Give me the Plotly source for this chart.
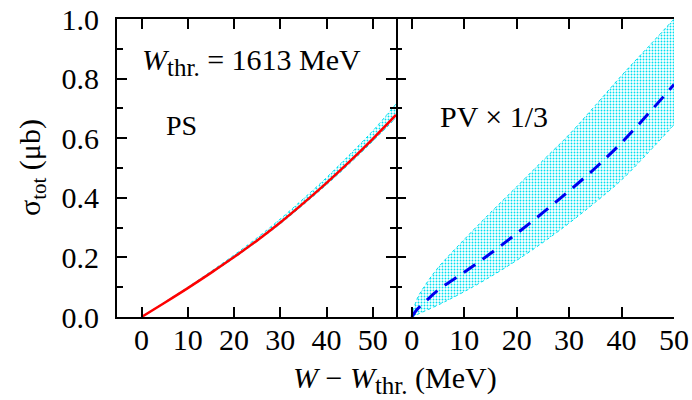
import plotly.graph_objects as go

# ---- data ----
ps_x = [0, 5, 10, 15, 20, 25, 30, 35, 40, 45, 50, 55]
ps_y = [0.0, 0.048, 0.097, 0.148, 0.201, 0.257, 0.317, 0.382, 0.450, 0.522, 0.598, 0.678]
ps_hi = [0.0, 0.050, 0.100, 0.153, 0.208, 0.266, 0.329, 0.397, 0.468, 0.545, 0.625, 0.715]
ps_lo = [0.0, 0.047, 0.095, 0.146, 0.198, 0.254, 0.313, 0.377, 0.444, 0.515, 0.590, 0.668]

pv_x = [0, 1, 2.5, 5, 10, 15, 20, 25, 30, 35, 40, 45, 50]
pv_y = [0.0, 0.025, 0.05, 0.09, 0.15, 0.213, 0.28, 0.35, 0.423, 0.50, 0.585, 0.68, 0.78]
pv_hi = [0.0, 0.06, 0.105, 0.165, 0.26, 0.35, 0.437, 0.525, 0.612, 0.71, 0.81, 0.905, 1.0]
pv_lo = [0.0, 0.008, 0.02, 0.04, 0.085, 0.135, 0.19, 0.25, 0.315, 0.385, 0.46, 0.55, 0.645]

x_ticks = [0, 10, 20, 30, 40, 50]
y_ticks = [0.0, 0.2, 0.4, 0.6, 0.8, 1.0]
y_ticklabels = ["0.0", "0.2", "0.4", "0.6", "0.8", "1.0"]

FONT = "Liberation Serif"
CYAN = "#00e0f0"

fig = go.Figure()

def band(x, lo, hi, xa, ya):
    fig.add_trace(go.Scatter(x=x, y=lo, mode="lines", xaxis=xa, yaxis=ya,
                             line=dict(color=CYAN, width=1, dash="dot", shape="spline"),
                             showlegend=False, hoverinfo="skip"))
    fig.add_trace(go.Scatter(x=x, y=hi, mode="lines", xaxis=xa, yaxis=ya,
                             line=dict(color=CYAN, width=1, dash="dot", shape="spline"),
                             fill="tonexty", fillcolor="rgba(0,224,240,0.06)",
                             fillpattern=dict(shape=".", fgcolor=CYAN, bgcolor="rgba(0,0,0,0)",
                                              size=3, solidity=0.3),
                             showlegend=False, hoverinfo="skip"))

band(ps_x, ps_lo, ps_hi, "x", "y")
fig.add_trace(go.Scatter(x=ps_x, y=ps_y, mode="lines", xaxis="x", yaxis="y",
                         line=dict(color="#ff0000", width=2.5, shape="spline"),
                         showlegend=False))

band(pv_x, pv_lo, pv_hi, "x2", "y2")
fig.add_trace(go.Scatter(x=pv_x, y=pv_y, mode="lines", xaxis="x2", yaxis="y2",
                         line=dict(color="#0000ee", width=3, dash="14px,9px", shape="spline"),
                         showlegend=False))

split = (396 - 117) / 557

tickfont = dict(family=FONT, size=30, color="black")
base = dict(linecolor="black", linewidth=2, ticks="inside", ticklen=10, tickwidth=1.5,
            tickcolor="black", showgrid=False, zeroline=False, automargin=False,
            tickfont=tickfont)
yminor = dict(dtick=0.1, ticklen=6, tickwidth=1.5, tickcolor="black", ticks="inside",
              showgrid=False)

SUB = '<sub><span style="font-size:25px">thr.</span></sub>'

fig.update_layout(
    template="none",
    width=692, height=400,
    margin=dict(l=117, r=18, t=19, b=83, autoexpand=False),
    paper_bgcolor="white", plot_bgcolor="white",
    font=dict(family=FONT, size=30, color="black"),
    showlegend=False,
    xaxis=dict(domain=[0, split], range=[-5.3, 55], tickvals=x_ticks, anchor="y",
               showline=True, mirror="ticks", ticklabelstandoff=-5, **base),
    xaxis2=dict(domain=[split, 1], range=[-3, 50], tickvals=x_ticks, anchor="y2",
                showline=True, mirror="ticks", ticklabelstandoff=-5, **base),
    yaxis=dict(domain=[0, 1], range=[0, 1.0], tickvals=y_ticks, ticktext=y_ticklabels,
               anchor="x", showline=True, mirror="ticks", ticklabelstandoff=10,
               minor=yminor, **base),
    yaxis2=dict(domain=[0, 1], range=[0, 1.0], tickvals=y_ticks, showticklabels=False,
                anchor="x2", showline=False, mirror=False, minor=yminor, **base),
    yaxis3=dict(domain=[0, 1], range=[0, 1.0], tickvals=y_ticks, showticklabels=False,
                anchor="x2", overlaying="y2", side="right", showline=True, mirror=False,
                minor=yminor, **base),
    annotations=[
        dict(text="<i>W</i>" + SUB + " = 1613 MeV", xref="paper", yref="paper",
             x=(140 - 117) / 557, y=(317 - 62) / 298, xanchor="left", yanchor="middle",
             showarrow=False, font=dict(family=FONT, size=30)),
        dict(text="PS", xref="paper", yref="paper",
             x=(164 - 117) / 557, y=(317 - 125) / 298, xanchor="left", yanchor="middle",
             showarrow=False, font=dict(family=FONT, size=28)),
        dict(text="PV × 1/3", xref="paper", yref="paper",
             x=(438 - 117) / 557, y=(317 - 117) / 298, xanchor="left", yanchor="middle",
             showarrow=False, font=dict(family=FONT, size=30)),
        dict(text="<i>W</i> − <i>W</i>" + SUB + " (MeV)", xref="paper", yref="paper",
             x=(395 - 117) / 557, y=-(380 - 317) / 298, xanchor="center", yanchor="middle",
             showarrow=False, font=dict(family=FONT, size=30)),
        dict(text="σ<sub>tot</sub> (μb)", xref="paper", yref="paper",
             x=-(117 - 32) / 557, y=(317 - 168) / 298, xanchor="center", yanchor="middle",
             textangle=-90, showarrow=False, font=dict(family=FONT, size=30)),
    ],
)

fig.write_html("out.html")
